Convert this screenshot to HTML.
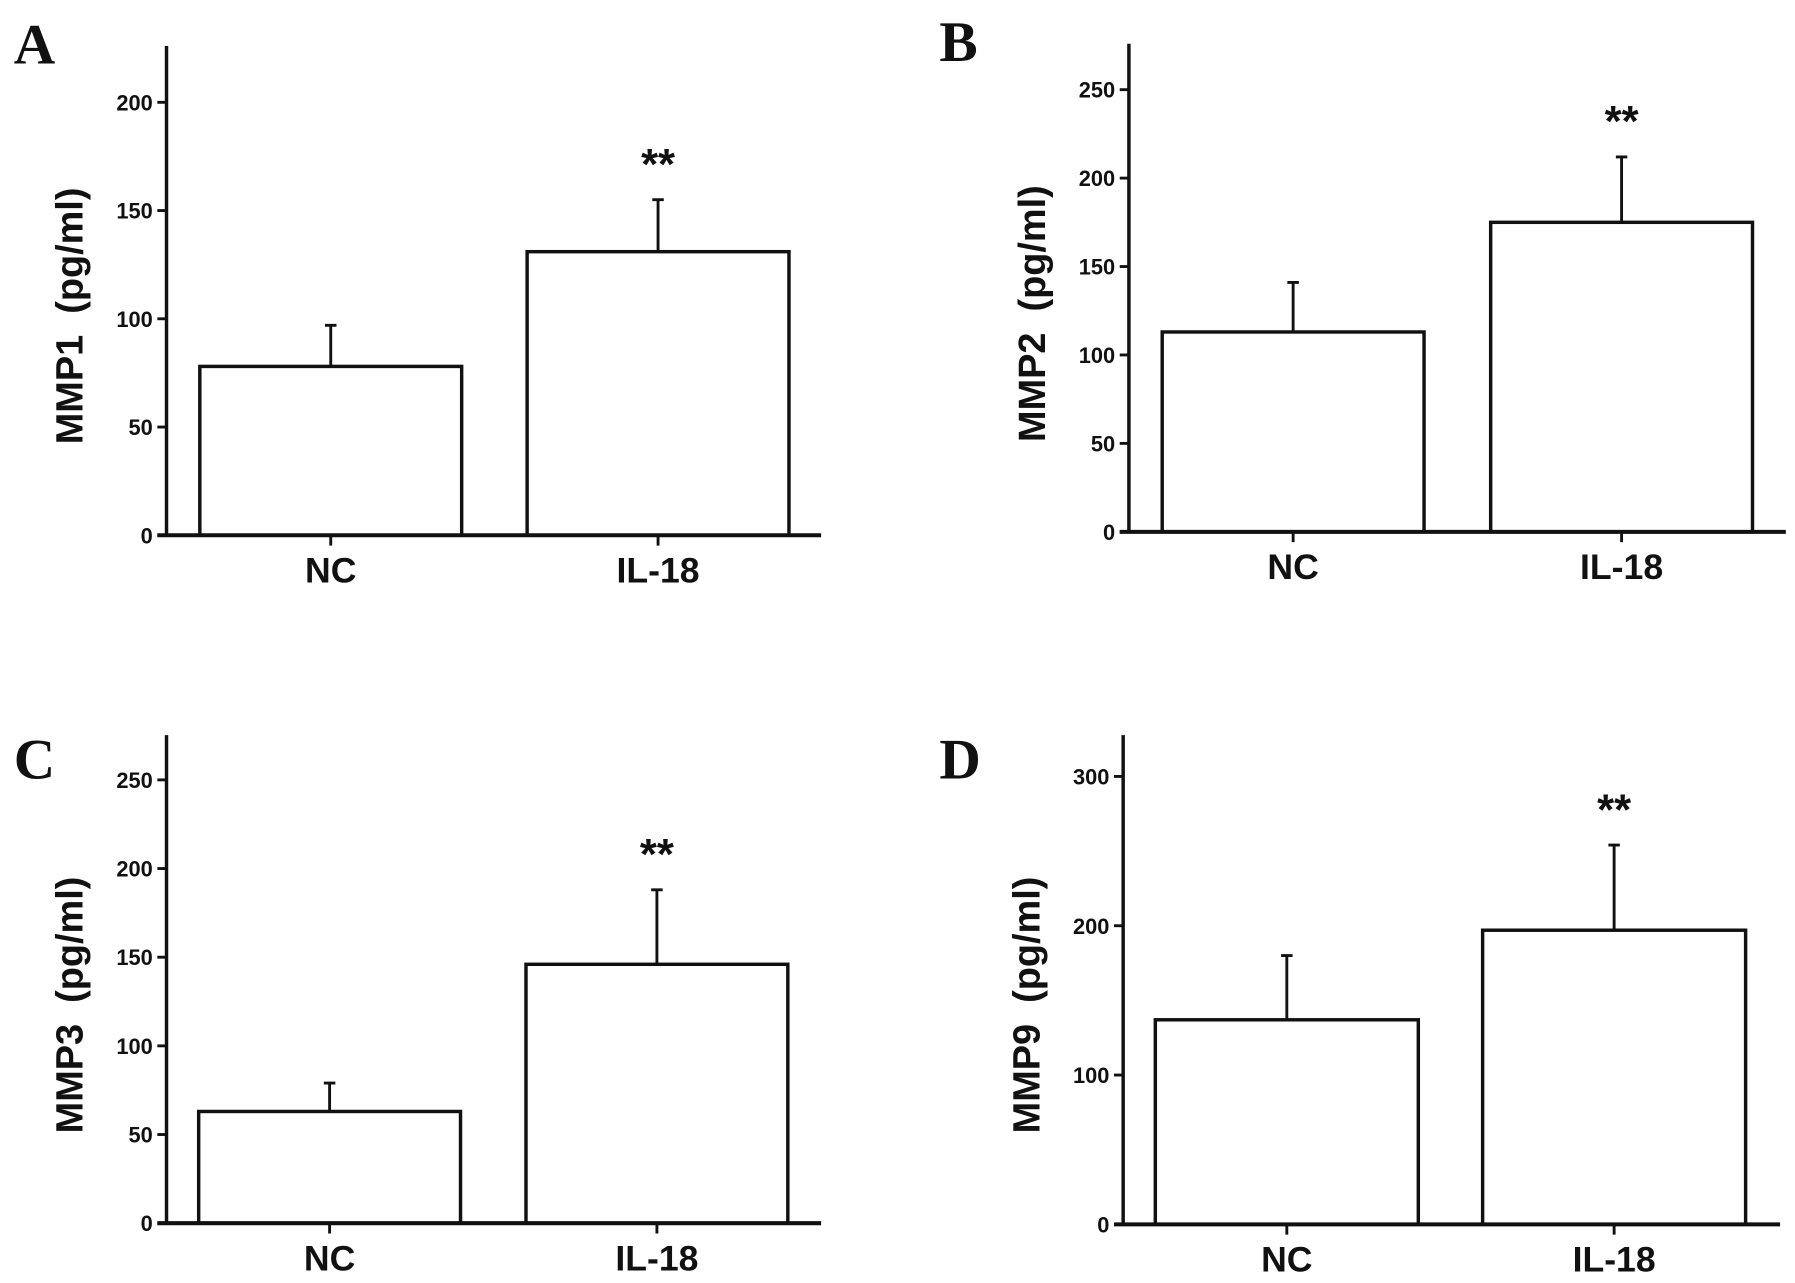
<!DOCTYPE html>
<html><head><meta charset="utf-8"><style>
html,body{margin:0;padding:0;background:#fff}
svg{display:block}
text{font-family:"Liberation Sans",Arial,sans-serif;font-weight:bold;fill:#111}
</style></head><body>
<svg id="fig" width="1795" height="1283" viewBox="0 0 1563 1117" xmlns="http://www.w3.org/2000/svg"></svg>
<script>
const categories = ["NC", "IL-18"];
const panelLetters = ["A", "B", "C", "D"];
const yTitles = ["MMP1\u00a0\u00a0(pg/ml)", "MMP2\u00a0\u00a0(pg/ml)", "MMP3\u00a0\u00a0(pg/ml)", "MMP9\u00a0\u00a0(pg/ml)"];
const meansA = [78, 131];
const errorsA = [19, 24];
const meansB = [113, 175];
const errorsB = [28, 37];
const meansC = [63, 146];
const errorsC = [16, 42];
const meansD = [137, 197];
const errorsD = [43, 57];
const ticksA = [0, 50, 100, 150, 200];
const ticksB = [0, 50, 100, 150, 200, 250];
const ticksC = [0, 50, 100, 150, 200, 250];
const ticksD = [0, 100, 200, 300];
const sigLabels = ["", "**"];

const svg = document.getElementById('fig');
const NS = "http://www.w3.org/2000/svg";
function mk(tag, attrs, parent){
  const e = document.createElementNS(NS, tag);
  for (const k in attrs) e.setAttribute(k, attrs[k]);
  (parent||svg).appendChild(e);
  return e;
}
const layouts = [
  {ax:145, top:40, base:466, xEnd:715, y0:466, pxPer:(466-89)/200, bar0:174, barW:228, gap:285, letterX:12, letterY:55, titleX:72, titleCy:275},
  {ax:983, top:38, base:463, xEnd:1555, y0:463, pxPer:(463-78)/250, bar0:1012, barW:228, gap:286, letterX:818, letterY:53, titleX:910, titleCy:273},
  {ax:145, top:640, base:1065, xEnd:715, y0:1065, pxPer:(1065-679)/250, bar0:173, barW:228, gap:285, letterX:12, letterY:678, titleX:72, titleCy:875},
  {ax:978, top:640, base:1066, xEnd:1550, y0:1066, pxPer:(1066-676)/300, bar0:1006, barW:229, gap:285, letterX:818, letterY:678, titleX:905, titleCy:875}
];
const allMeans = [meansA, meansB, meansC, meansD];
const allErrors = [errorsA, errorsB, errorsC, errorsD];
const allTicks = [ticksA, ticksB, ticksC, ticksD];

layouts.forEach((L, p) => {
  const g = mk('g', {});
  
  
  const yScale = v => L.y0 - v * L.pxPer;
  const xLeft = i => L.bar0 + i * L.gap;
  const xCenter = i => xLeft(i) + L.barW / 2;

  const letter = mk('text', {x:L.letterX, y:L.letterY, 'font-size':50, style:'font-family:"Liberation Serif",serif;font-weight:bold'}, g);
  letter.textContent = panelLetters[p];
  
  

  allMeans[p].forEach((v, i) => {
    const top = yScale(v);
    const r = mk('rect', {x:xLeft(i), y:top, width:L.barW, height:L.y0 - top, fill:'#fff', stroke:'#111', 'stroke-width':3}, g);
    
    
    const eTop = yScale(v + allErrors[p][i]);
    const el = mk('path', {d:`M${xCenter(i)},${top} V${eTop} M${xCenter(i)-5},${eTop} H${xCenter(i)+5}`, stroke:'#111', 'stroke-width':2.5, fill:'none'}, g);
    
    
    if (sigLabels[i]) {
      const s = mk('text', {x:xCenter(i), y:eTop - 18, 'text-anchor':'middle', 'font-size':38}, g);
      s.textContent = sigLabels[i];
      
      
    }
    const tk = mk('line', {x1:xCenter(i), x2:xCenter(i), y1:L.base, y2:L.base + 9, stroke:'#111', 'stroke-width':2.5}, g);
    
    
    const lb = mk('text', {x:xCenter(i), y:L.base + 41, 'text-anchor':'middle', 'font-size':31}, g);
    lb.textContent = categories[i];
    
    
  });

  const ya = mk('line', {x1:L.ax, x2:L.ax, y1:L.top, y2:L.base, stroke:'#111', 'stroke-width':3}, g);
  
  
  const xa = mk('line', {x1:L.ax - 8, x2:L.xEnd, y1:L.base, y2:L.base, stroke:'#111', 'stroke-width':3.5}, g);
  
  

  allTicks[p].forEach(t => {
    const y = yScale(t);
    const tk = mk('line', {x1:L.ax - 8, x2:L.ax, y1:y, y2:y, stroke:'#111', 'stroke-width':2.5}, g);
    
    
    const tl = mk('text', {x:L.ax - 12, y:y + 7, 'text-anchor':'end', 'font-size':19}, g);
    tl.textContent = t;
    
    
  });

  const cy = L.titleCy;
  const tt = mk('text', {x:L.titleX, y:cy, 'text-anchor':'middle', 'font-size':33, transform:`rotate(-90 ${L.titleX} ${cy})`, 'xml:space':'preserve'}, g);
  tt.textContent = yTitles[p];
  
  
});
</script>
</body></html>
